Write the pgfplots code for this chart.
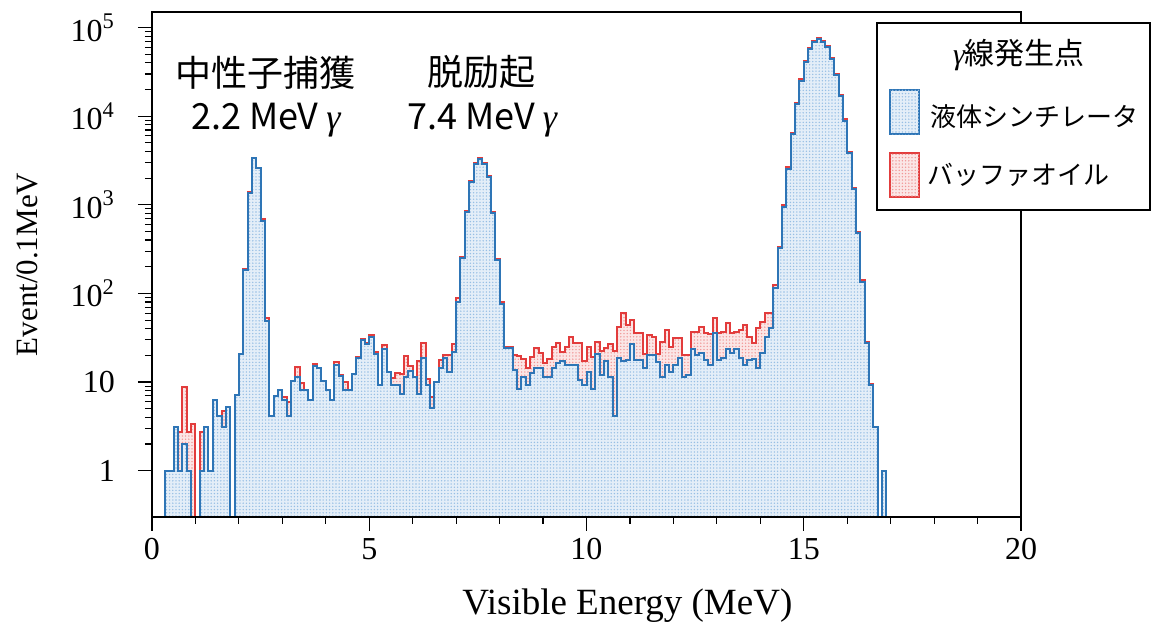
\documentclass[border=0pt]{standalone}
\usepackage{fontspec}
\setmainfont{Liberation Serif}
\newfontfamily\jp{Noto Sans CJK JP}
\usepackage{pgfplots}
\pgfplotsset{compat=1.18}
\usepackage{pgfplotstable}
\usetikzlibrary{patterns.meta}

\definecolor{bline}{RGB}{46,117,182}
\definecolor{bfill}{RGB}{228,238,248}
\definecolor{bdot}{RGB}{150,190,228}
\definecolor{rline}{RGB}{226,60,60}
\definecolor{rfill}{RGB}{251,230,230}
\definecolor{rdot}{RGB}{240,150,150}

\tikzset{
  bluehist/.style={fill=bfill, postaction={pattern={Dots[radius=0.38pt, distance=1.6pt]}, pattern color=bdot}},
  redhist/.style={fill=rfill, postaction={pattern={Dots[radius=0.38pt, distance=1.6pt]}, pattern color=rdot}},
}

% blue: liquid scintillator ; bin left edge, counts per 0.1 MeV (0.01 = empty)
\pgfplotstableread{
x y
0.0 0.01
0.1 0.01
0.2 0.01
0.3 1
0.4 1
0.5 3.1
0.6 1
0.7 2
0.8 1
0.9 0.01
1.0 0.01
1.1 1
1.2 3.1
1.3 1
1.4 6.2
1.5 4.1
1.6 3.1
1.7 5.2
1.8 0.01
1.9 7.1
2.0 21
2.1 184
2.2 1373
2.3 3358
2.4 2588
2.5 663
2.6 49
2.7 4.1
2.8 7
2.9 8.1
3.0 6.3
3.1 4.1
3.2 10.4
3.3 11.3
3.4 8.2
3.5 8.2
3.6 6.3
3.7 15
3.8 14.4
3.9 10.4
4.0 8.2
4.1 6.3
4.2 15.6
4.3 11.8
4.4 8.2
4.5 8.2
4.6 12.4
4.7 18.5
4.8 30
4.9 27
5.0 32
5.1 21
5.2 9.3
5.3 23.5
5.4 13.1
5.5 9.3
5.6 9.3
5.7 7.3
5.8 11.4
5.9 13.5
6.0 11.4
6.1 7.3
6.2 18.6
6.3 9.3
6.4 5.1
6.5 10
6.6 14.3
6.7 18.6
6.8 13.1
6.9 21.7
7.0 81
7.1 250
7.2 838
7.3 1828
7.4 2895
7.5 3270
7.6 2895
7.7 2082
7.8 804
7.9 239
8.0 77
8.1 24
8.2 24
8.3 13.7
8.4 8.3
8.5 11.5
8.6 9.3
8.7 12.6
8.8 14.3
8.9 14.3
9.0 11.3
9.1 11.3
9.2 14.3
9.3 16.3
9.4 17.5
9.5 15.5
9.6 15.5
9.7 15.5
9.8 10.6
9.9 9.3
10.0 13.1
10.1 8.3
10.2 20.8
10.3 12
10.4 17.5
10.5 11.5
10.6 4.1
10.7 18.6
10.8 17.3
10.9 17.8
11.0 26.7
11.1 17.8
11.2 17.8
11.3 14.3
11.4 20.2
11.5 20.2
11.6 17
11.7 11.5
11.8 15.6
11.9 13.1
12.0 15.6
12.1 18.6
12.2 11.5
12.3 12
12.4 23.5
12.5 20.2
12.6 21.1
12.7 17.8
12.8 15.6
12.9 35.5
13.0 17.8
13.1 18.6
13.2 23.5
13.3 21.5
13.4 23.5
13.5 18.6
13.6 15.6
13.7 17.8
13.8 18.1
13.9 14.3
14.0 21.1
14.1 32.5
14.2 40.5
14.3 114.5
14.4 324
14.5 955
14.6 2523
14.7 6266
14.8 13770
14.9 25240
15.0 41350
15.1 57000
15.2 69500
15.3 74000
15.4 69500
15.5 60100
15.6 44000
15.7 29260
15.8 16940
15.9 8920
16.0 3820
16.1 1500
16.2 478
16.3 136
16.4 27.8
16.5 9.3
16.6 3.1
16.7 0.01
16.8 1
16.9 0.01
17.0 0.01
}\bluedata

% red: buffer oil
\pgfplotstableread{
x y
0.0 0.01
0.1 0.01
0.2 0.01
0.3 1
0.4 1
0.5 3.1
0.6 2.7
0.7 8.9
0.8 2.7
0.9 3.4
1.0 0.01
1.1 2.7
1.2 3.1
1.3 1
1.4 6.2
1.5 4.1
1.6 4.7
1.7 5.2
1.8 0.01
1.9 7.1
2.0 21
2.1 190
2.2 1400
2.3 3400
2.4 2600
2.5 690
2.6 53
2.7 4.1
2.8 7
2.9 8.1
3.0 6.8
3.1 5.9
3.2 10.4
3.3 14.6
3.4 9.8
3.5 8.2
3.6 6.3
3.7 16
3.8 14.4
3.9 10.4
4.0 8.2
4.1 6.3
4.2 16.8
4.3 12
4.4 10
4.5 8.2
4.6 12.4
4.7 19
4.8 31
4.9 27.5
5.0 34
5.1 22
5.2 9.3
5.3 26
5.4 13.1
5.5 11
5.6 12.6
5.7 12.4
5.8 19.7
5.9 15
6.0 11.4
6.1 17.3
6.2 27.4
6.3 10.8
6.4 6.8
6.5 10
6.6 17.8
6.7 20.2
6.8 20.2
6.9 26.7
7.0 88
7.1 260
7.2 860
7.3 1850
7.4 2950
7.5 3350
7.6 2950
7.7 2100
7.8 830
7.9 245
8.0 80
8.1 25.1
8.2 25.1
8.3 20.2
8.4 19.7
8.5 18.1
8.6 14.3
8.7 19.1
8.8 24.1
8.9 21.1
9.0 16.6
9.1 18.1
9.2 25.1
9.3 27.4
9.4 22
9.5 25.1
9.6 32.5
9.7 27.4
9.8 27.4
9.9 17.5
10.0 25.1
10.1 19.4
10.2 28.6
10.3 22.6
10.4 24.1
10.5 26.9
10.6 22.6
10.7 41.5
10.8 59.8
10.9 44.1
11.0 50.2
11.1 35.5
11.2 35.5
11.3 21
11.4 34
11.5 32.5
11.6 21
11.7 28.6
11.8 38.7
11.9 25.1
12.0 31.2
12.1 31.2
12.2 20.2
12.3 20.2
12.4 37.1
12.5 37.1
12.6 42.2
12.7 35.5
12.8 34.9
12.9 52.5
13.0 35.5
13.1 37.1
13.2 46.1
13.3 35.5
13.4 37.1
13.5 38.7
13.6 44.1
13.7 32.5
13.8 27.8
13.9 40.5
14.0 48.1
14.1 59.8
14.2 60.7
14.3 125
14.4 338
14.5 997
14.6 2650
14.7 6500
14.8 14200
14.9 26000
15.0 42500
15.1 58500
15.2 71500
15.3 76000
15.4 71500
15.5 62000
15.6 45500
15.7 30000
15.8 17500
15.9 9200
16.0 3950
16.1 1550
16.2 495
16.3 140
16.4 28.5
16.5 9.5
16.6 3.1
16.7 0.01
16.8 1
16.9 0.01
17.0 0.01
}\reddata

\begin{document}
\begin{tikzpicture}
\begin{axis}[
  scale only axis,
  width=434.5pt, height=252.5pt,
  xmin=0, xmax=20,
  ymode=log, ymin=0.3, ymax=1.5e5,
  axis on top,
  axis line style={line width=0.8pt},
  tick align=outside, tick pos=left,
  major tick length=7pt, minor tick length=3.5pt,
  every tick/.style={black, line width=0.6pt},
  xtick={0,5,10,15,20}, xticklabels={0,5,10,15,20},
  minor x tick num=4,
  ytick={1,10,100,1000,10000,100000},
  yticklabels={1,10,10\textsuperscript{2},10\textsuperscript{3},10\textsuperscript{4},10\textsuperscript{5}},
  tick label style={font=\fontsize{16}{16}\selectfont},
  yticklabel style={xshift=-8pt},
  xlabel={Visible Energy (MeV)},
  ylabel={Event/0.1MeV},
  xlabel style={font=\fontsize{18.5}{18.5}\selectfont, at={(axis description cs:0.547,-0.175)}, anchor=center},
  ylabel style={font=\fontsize{15.5}{15.5}\selectfont, at={(axis description cs:-0.143,0.5)}, anchor=center, rotate=0},
  clip=true,
]
\addplot[const plot, draw=rline, redhist, line width=1pt] table[x=x,y=y] {\reddata};
\addplot[const plot, draw=bline, bluehist, line width=1pt] table[x=x,y=y] {\bluedata};

\node[font=\jp\fontsize{18}{18}\selectfont] at (axis cs:2.62,31200) {中性子捕獲};
\node[font=\jp\fontsize{18}{18}\selectfont] at (axis cs:2.62,9080) {2.2 MeV {\rmfamily\itshape γ}};
\node[font=\jp\fontsize{18}{18}\selectfont] at (axis cs:7.58,31200) {脱励起};
\node[font=\jp\fontsize{18}{18}\selectfont] at (axis cs:7.6,9080) {7.4 MeV {\rmfamily\itshape γ}};
\coordinate (sw) at (rel axis cs:0,0);
\end{axis}

% legend
\draw[line width=1pt, fill=white] ([shift={(362.5pt,153.5pt)}]sw) rectangle ([shift={(499pt,247pt)}]sw);
\node[font=\jp\fontsize{15}{15}\selectfont] at ([shift={(433.5pt,231pt)}]sw) {{\rmfamily\itshape γ}線発生点};
\draw[bline, line width=0.8pt, bluehist] ([shift={(369pt,191.5pt)}]sw) rectangle ([shift={(383.5pt,213.5pt)}]sw);
\node[font=\jp\fontsize{13}{13}\selectfont, anchor=west, inner sep=0pt] at ([shift={(389pt,200pt)}]sw) {液体シンチレータ};
\draw[rline, line width=0.8pt, redhist] ([shift={(369pt,160pt)}]sw) rectangle ([shift={(383.5pt,182pt)}]sw);
\node[font=\jp\fontsize{13}{13}\selectfont, anchor=west, inner sep=0pt] at ([shift={(387.5pt,171pt)}]sw) {バッファオイル};

\pgfresetboundingbox
\path ([shift={(-76pt,-55.5pt)}]sw) rectangle ([shift={(500pt,258.5pt)}]sw);
\end{tikzpicture}
\end{document}
